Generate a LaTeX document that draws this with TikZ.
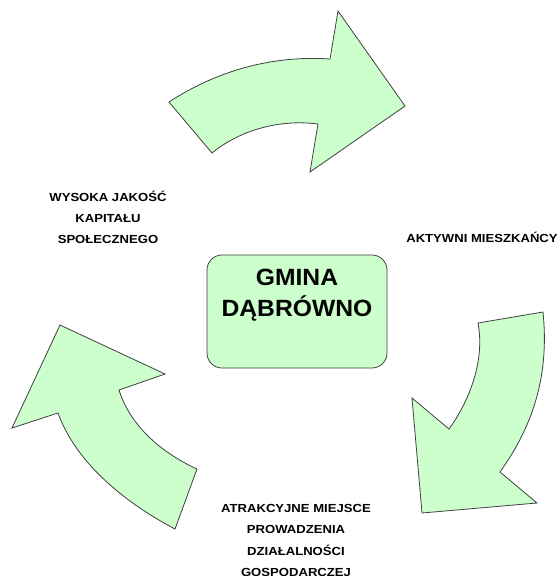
\documentclass[tikz,border=0pt]{standalone}
\usepackage{fontspec}
\setmainfont{Liberation Sans}
\newfontfamily\lblfont{Liberation Sans}[FakeStretch=1.12]
\newfontfamily\boxfont{Liberation Sans}[FakeStretch=1.05]
\begin{document}
\begin{tikzpicture}[x=1pt,y=-1pt,
  arrowshape/.style={fill=arrowgreen,draw=black!75,line width=0.8pt,line join=miter},
  label/.style={font=\lblfont\bfseries\fontsize{11.7}{21.3}\selectfont,align=center,inner sep=0pt},
  centerbox/.style={draw=black!75,fill=arrowgreen,line width=0.8pt,rounded corners=15pt,minimum width=180pt,minimum height=113pt,inner sep=0pt}]
\definecolor{arrowgreen}{HTML}{CCFFCC}
\useasboundingbox (0,0) rectangle (559,576);
% top arrow
\draw[arrowshape] (169,102) .. controls (215,72) and (270,55) .. (330,59)
  -- (338,11) -- (405,106) -- (310,172) -- (318,124)
  .. controls (280,119) and (240,130) .. (212,153) -- cycle;
% right arrow
\draw[arrowshape] (478,323) -- (543,312) .. controls (550,380) and (530,430) .. (500,472)
  -- (537,503) -- (422,513) -- (412,398) -- (449,429)
  .. controls (470,400) and (485,360) .. (478,323) -- cycle;
% left arrow
\draw[arrowshape] (60,325) -- (165,374) -- (119,390)
  .. controls (130,425) and (160,452) .. (197,469) -- (175,529)
  .. controls (120,500) and (75,460) .. (58,413) -- (12,428) -- cycle;
% center box
\node[centerbox] (box) at (297,311.5) {};
\node[font=\boxfont\bfseries\fontsize{23.5}{31}\selectfont,align=center,inner sep=0pt] (gmina) at (297,295.5) {GMINA\\DĄBRÓWNO};
% labels
\node[label] (kapital) at (108,217.5) {WYSOKA JAKOŚĆ\\KAPITAŁU\\SPOŁECZNEGO};
\node[label] (aktywni) at (482,237) {AKTYWNI MIESZKAŃCY};
\node[label] (atrakcyjne) at (296,540.5) {ATRAKCYJNE MIEJSCE\\PROWADZENIA\\DZIAŁALNOŚCI\\GOSPODARCZEJ};
\end{tikzpicture}
\end{document}
